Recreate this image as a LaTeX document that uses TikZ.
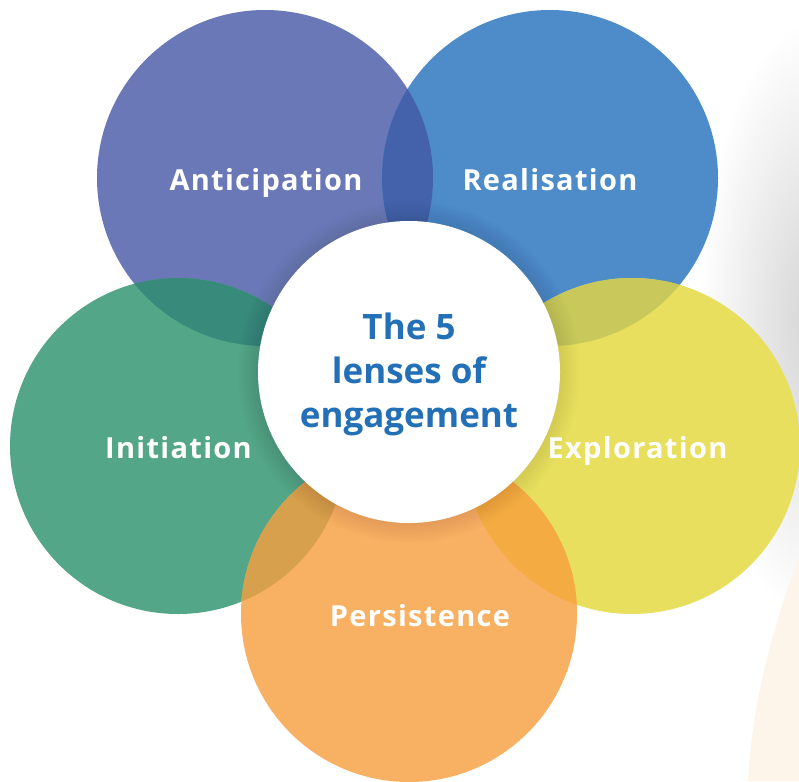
\documentclass[tikz,border=0pt]{standalone}
\usepackage{fontspec}
\setmainfont{Open Sans}
\definecolor{cAnt}{HTML}{6A78B8}
\definecolor{cRea}{HTML}{4D8BC9}
\definecolor{cIni}{HTML}{53A688}
\definecolor{cExp}{HTML}{E7DF5D}
\definecolor{cPer}{HTML}{F8B063}
\definecolor{oAR}{HTML}{4462AC}
\definecolor{oAI}{HTML}{388A7A}
\definecolor{oRE}{HTML}{C8C95A}
\definecolor{oIP}{HTML}{D7A04C}
\definecolor{oEP}{HTML}{F4AC42}
\definecolor{ctext}{HTML}{2370B7}
\definecolor{beige}{HTML}{FDF4EA}
\tikzset{
  lens/.style={anchor=base, inner sep=0pt, font=\bfseries\fontsize{29}{34}\selectfont\addfontfeatures{LetterSpace=4.5}, text=white},
  hub/.style={font=\bfseries\fontsize{35}{44}\selectfont, text=ctext, align=center}
}
\begin{document}
\begin{tikzpicture}[x=1pt,y=-1pt]
\useasboundingbox (0,0) rectangle (799,781);
% background decorations
\begin{scope}
\clip (0,0) rectangle (799,781);
\shade[inner color=black!17, outer color=white] (815,320) ellipse (116 and 300);
\end{scope}
\fill[beige] (799,558) .. controls (775,620) and (752,700) .. (748,781) -- (799,781) -- cycle;
% circles
\coordinate (A) at (265,178);
\coordinate (R) at (550,178);
\coordinate (I) at (178,446);
\coordinate (E) at (632,446);
\coordinate (P) at (409,614);
\coordinate (C) at (409,372);
\fill[cAnt] (A) circle (168);
\fill[cRea] (R) circle (168);
\fill[cIni] (I) circle (168);
\fill[cExp] (E) circle (168);
\fill[cPer] (P) circle (168);
\begin{scope}\clip (A) circle (168); \fill[oAR] (R) circle (168); \end{scope}
\begin{scope}\clip (A) circle (168); \fill[oAI] (I) circle (168); \end{scope}
\begin{scope}\clip (R) circle (168); \fill[oRE] (E) circle (168); \end{scope}
\begin{scope}\clip (I) circle (168); \fill[oIP] (P) circle (168); \end{scope}
\begin{scope}\clip (E) circle (168); \fill[oEP] (P) circle (168); \end{scope}
% soft shadow round the hub
\foreach \r in {151,153,...,171} { \fill[black, opacity=0.008] (C) circle (\r); }
\fill[white] (C) circle (151);
% labels
\node[lens] (tA) at (266,190) {Anticipation};
\node[lens] (tR) at (550,190) {Realisation};
\node[lens] (tI) at (178.5,458) {Initiation};
\node[lens] (tE) at (637.5,458) {Exploration};
\node[lens] (tP) at (420,626) {Persistence};
\node[hub] (tC) at (409,374) {The 5\\lenses of\\engagement};
\end{tikzpicture}
\end{document}
